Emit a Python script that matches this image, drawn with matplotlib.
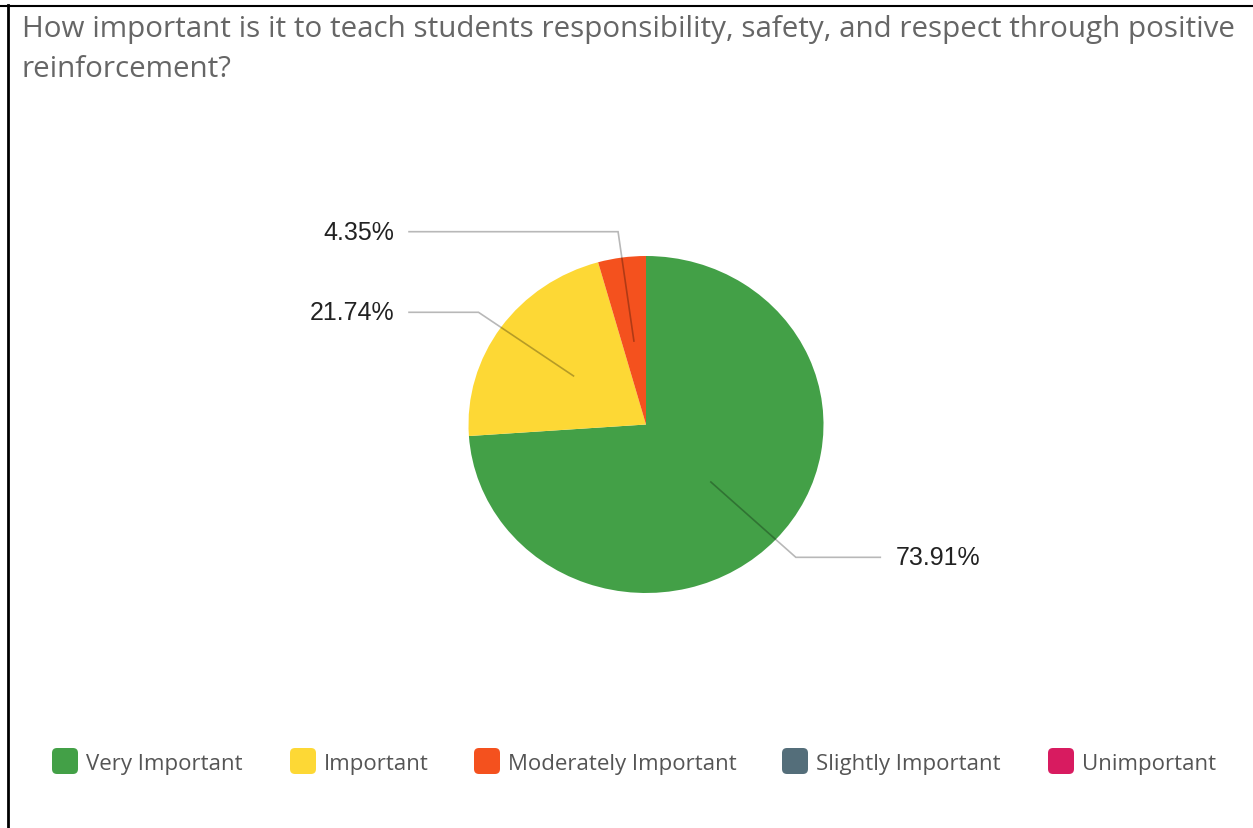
import matplotlib
matplotlib.use("Agg")
import matplotlib.pyplot as plt
import numpy as np
from matplotlib.patches import FancyBboxPatch
from matplotlib.lines import Line2D

categories = ["Very Important", "Important", "Moderately Important", "Slightly Important", "Unimportant"]
values = [73.91, 21.74, 4.35, 0.0, 0.0]
colors = ["#43A047", "#FDD835", "#F4511E", "#546E7A", "#D81B60"]
title_lines = ["How important is it to teach students responsibility, safety, and respect through positive",
               "reinforcement?"]

W, H = 1253, 829
fig = plt.figure(figsize=(W / 100, H / 100), dpi=100)
fig.patch.set_facecolor("white")

# pie geometry in pixels
cx, cy, rx, ry = 646, 425.5, 177.5, 168.5
ax = fig.add_axes([0, 0, 1, 1])
nz = [(v, c) for v, c in zip(values, colors) if v > 0]
wedges, _ = ax.pie([v for v, _ in nz], colors=[c for _, c in nz], startangle=90,
                   counterclock=False, radius=1, center=(0, 0),
                   wedgeprops=dict(linewidth=0))
ax.set_aspect("auto")
ax.set_xlim(-cx / rx, (W - cx) / rx)
ax.set_ylim(-(H - cy) / ry, cy / ry)
ax.axis("off")

# leader lines and labels
for w, (v, c) in zip(wedges, nz):
    mid = np.deg2rad((w.theta1 + w.theta2) / 2)
    x0, y0 = 0.5 * np.cos(mid), 0.5 * np.sin(mid)
    x1, y1 = 1.155 * np.cos(mid), 1.155 * np.sin(mid)
    side = 1 if np.cos(mid) > 0 else -1
    x2 = 1.32 if side > 0 else -1.335
    ax.plot([x0, x1, x2], [y0, y1, y1], color="black", alpha=0.28, lw=1.2,
            solid_joinstyle="miter")
    ax.text(x2 + side * 0.085, y1, f"{v:.2f}%", ha="left" if side > 0 else "right",
            va="center", fontsize=18, family="Liberation Sans", color="#222222")

# title
for i, t in enumerate(title_lines):
    fig.text(22 / W, 1 - (37 + 40 * i) / H, t, ha="left", va="baseline", fontsize=21.3,
             family="Open Sans", color="#666666")

# legend
leg_x = [52, 290, 474, 782, 1048]
leg_y = 763
for x, lab, c in zip(leg_x, categories, colors):
    box = FancyBboxPatch(((x) / W, 1 - (leg_y + 12) / H), 26 / W, 26 / H,
                         boxstyle="round,pad=0,rounding_size=0.004",
                         transform=fig.transFigure, facecolor=c, edgecolor="none",
                         mutation_aspect=W / H)
    fig.patches.append(box)
    fig.text((x + 34) / W, 1 - (leg_y + 7) / H, lab, ha="left", va="baseline",
             fontsize=16, family="Open Sans", color="#555555")

# border lines
fig.add_artist(Line2D([8 / W, 8 / W], [0, 1 - 6 / H], transform=fig.transFigure,
                      color="black", lw=2))
fig.add_artist(Line2D([0, 1], [1 - 7 / H, 1 - 7 / H], transform=fig.transFigure,
                      color="black", lw=1.5))

fig.savefig("out.png", dpi=100, facecolor="white")
